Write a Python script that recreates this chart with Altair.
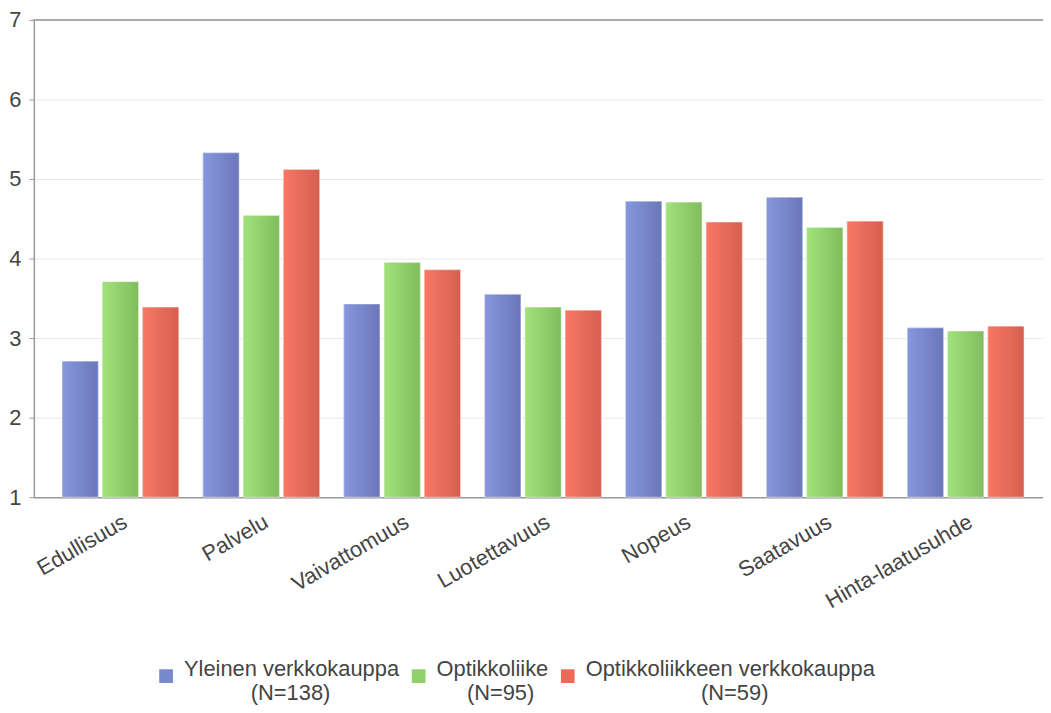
import altair as alt
import pandas as pd

categories = ["Edullisuus", "Palvelu", "Vaivattomuus", "Luotettavuus", "Nopeus", "Saatavuus", "Hinta-laatusuhde"]
series = ["Yleinen verkkokauppa\n(N=138)", "Optikkoliike\n(N=95)", "Optikkoliikkeen verkkokauppa\n(N=59)"]
yleinen = [2.71, 5.33, 3.43, 3.55, 4.72, 4.77, 3.13]
optikko = [3.71, 4.54, 3.95, 3.39, 4.71, 4.39, 3.09]
optikko_verkko = [3.39, 5.12, 3.86, 3.35, 4.46, 4.47, 3.15]

solid = ["#7788cf", "#8fd16a", "#eb6a58"]
grads = [("#8797de", "#6a77b8"), ("#a2e27c", "#80bc5c"), ("#f87765", "#d65f4f")]

rows = []
for s, vals in zip(series, [yleinen, optikko, optikko_verkko]):
    for c, v in zip(categories, vals):
        rows.append({"Kategoria": c, "Sarja": s, "Arvo": v})
df = pd.DataFrame(rows)

FONT = "Liberation Sans"
FS = 22
NB = "\u00a0"
ZW = "\u200b"

x_enc = alt.X("Kategoria:N", sort=categories, title=None,
              scale=alt.Scale(paddingInner=0, paddingOuter=0.0815, align=0.7),
              axis=alt.Axis(labelAngle=-30, labelAlign="right", labelBaseline="top",
                            labelFontSize=FS, labelColor="#444", labelFont=FONT,
                            ticks=False, domainColor="#999", domainWidth=1.5,
                            labelPadding=14, labelLimit=400))
xo_enc = alt.XOffset("Sarja:N", sort=series,
                     scale=alt.Scale(paddingInner=0.1, paddingOuter=0.3))
y_enc = alt.Y("Arvo:Q", title=None,
              scale=alt.Scale(domain=[1, 7], nice=False, zero=False),
              axis=alt.Axis(values=[1, 2, 3, 4, 5, 6, 7], format="d", labelFontSize=FS,
                            labelColor="#444", labelFont=FONT, gridColor="#e8e8e8",
                            domainColor="#999", domainWidth=1.5,
                            tickColor="#999", tickSize=5, labelPadding=8))

label_expr = (
    "[split(datum.label,'\\n')[0], '" + ZW + "' + "
    "pad('', round((length(split(datum.label,'\\n')[0])*0.5 - "
    "length(split(datum.label,'\\n')[1])*0.58)/0.556), '" + NB + "') + "
    "split(datum.label,'\\n')[1]]"
)

base = alt.Chart(df).mark_bar().encode(
    x=x_enc, xOffset=xo_enc, y=y_enc, y2=alt.datum(1),
    color=alt.Color("Sarja:N", sort=series, scale=alt.Scale(domain=series, range=solid),
                    legend=alt.Legend(title=None, orient="none", direction="horizontal",
                                      columns=3, legendX=122, legendY=649,
                                      labelExpr=label_expr, labelBaseline="alphabetic",
                                      labelFontSize=FS, labelColor="#444", labelFont=FONT,
                                      labelLimit=0, symbolType="square", symbolSize=190,
                                      symbolStrokeWidth=0, columnPadding=8,
                                      labelOffset=7)),
)

layers = [base]
for s, (c1, c2) in zip(series, grads):
    g = alt.LinearGradient(gradient="linear", x1=0, x2=1, y1=0, y2=0,
                           stops=[alt.GradientStop(color=c1, offset=0),
                                  alt.GradientStop(color=c2, offset=1)])
    layers.append(
        alt.Chart(df).transform_filter(alt.datum.Sarja == s).mark_bar(
            color=g, stroke="#ffffff", strokeOpacity=0.5, strokeWidth=1
        ).encode(x=x_enc, xOffset=xo_enc, y=y_enc, y2=alt.datum(1))
    )

top_rule = alt.Chart(df).mark_rule(color="#aaa", strokeWidth=1.5).encode(y=alt.datum(7))

chart = alt.layer(*layers, top_rule).properties(
    width=1015, height=480,
    autosize=alt.AutoSizeParams(type="none"),
    padding={"left": 26, "top": 10, "right": 0, "bottom": 207},
).configure_view(stroke=None)

chart.save("out.html", embed_options={"renderer": "svg", "actions": False})
